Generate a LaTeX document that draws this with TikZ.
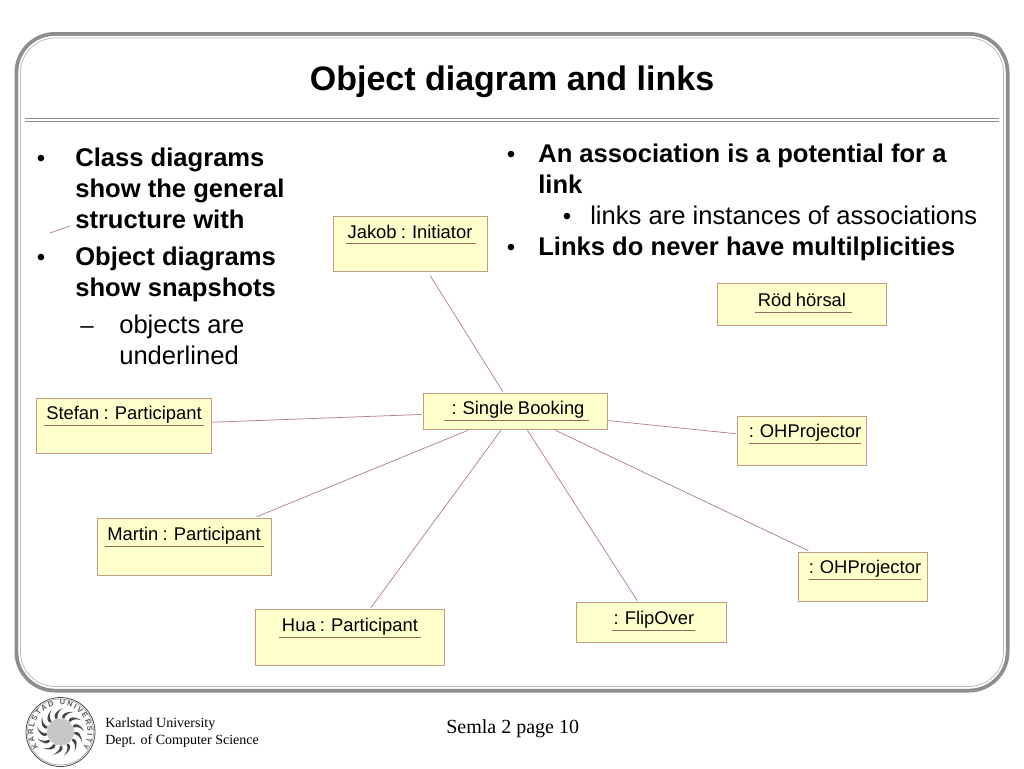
\documentclass[tikz,border=0pt]{standalone}
\usepackage{fontspec}
\setmainfont{Liberation Sans}
\newfontfamily\timesf{Liberation Serif}
\usetikzlibrary{decorations.text}
\definecolor{boxfill}{HTML}{FFFFCC}
\definecolor{boxline}{HTML}{C49A84}
\definecolor{linkline}{HTML}{B07F92}
\definecolor{uline}{HTML}{8F6A5A}
\definecolor{frameg}{HTML}{8E8E8E}
\tikzset{
  x=0.75pt,y=-0.75pt,
  objbox/.style={draw=boxline,fill=boxfill,line width=0.7pt,inner sep=0pt,outer sep=1pt},
  objlabel/.style={font=\fontsize{13.8}{15}\selectfont,anchor=base,inner sep=0pt,execute at begin node={\spaceskip=3.2pt plus 0pt\relax}},
  ulinestyle/.style={draw=uline,line width=0.35pt},
  linkl/.style={draw=linkline,line width=0.55pt},
  body/.style={font=\fontsize{19.2}{23.25}\selectfont,anchor=north west,align=left,inner sep=0pt},
  boldbody/.style={body,font=\fontsize{19.2}{23.25}\selectfont\bfseries},
  bull/.style={font=\fontsize{18}{23.25}\selectfont,anchor=base,inner sep=0pt},
}
\newcommand{\objnode}[5]{% name, x1,y1,x2,y2
  \node[objbox,minimum width=#4*0.75pt-#2*0.75pt,minimum height=#5*0.75pt-#3*0.75pt] (#1) at ({(#2+#4)/2},{(#3+#5)/2}) {};
}
\begin{document}
\begin{tikzpicture}
\useasboundingbox (0,0) rectangle (1024,768);
\fill[white] (0,0) rectangle (1024,768);
% frame
\draw[frameg,line width=3pt,rounded corners=29pt] (16.5,34) rectangle (1007.5,690.5);
\draw[white,line width=0.8pt,rounded corners=27pt] (19,36.5) rectangle (1005,688);
\draw[frameg!60,line width=0.6pt,rounded corners=26pt] (20.5,38) rectangle (1003.5,686.5);
% title rule
\draw[frameg,line width=1.2pt] (25,118.5) -- (999,118.5);
\draw[frameg,line width=1.2pt] (25,121.5) -- (999,121.5);
\node[font=\fontsize{25.5}{28}\selectfont\bfseries,anchor=base,inner sep=0pt] (title) at (512,90) {Object diagram and links};
% bullets
\node[boldbody] (c1) at (75,148) {Class diagrams\\show the general\\structure with};
\node[bull] (bc1) at (41,166) {•};
\node[boldbody] (c2) at (75,247) {Object diagrams\\show snapshots};
\node[bull] (bc2) at (41,265) {•};
\node[body] (c3) at (119,315) {objects are\\underlined};
\node[bull] (bc3) at (87,333) {–};
\node[boldbody] (r1) at (538,144) {An association is a potential for a\\link};
\node[bull] (br1) at (511,162) {•};
\node[body] (r2) at (590,206) {links are instances of associations};
\node[bull] (br2) at (567,224) {•};
\node[boldbody] (r3) at (538,237) {Links do never have multilplicities};
\node[bull] (br3) at (511,255) {•};
% stray line
\coordinate (s1) at (50,233);
\coordinate (s2) at (70,226);
\draw[linkl] (s1) -- (s2);
% boxes
\objnode{jakob}{333}{216}{487}{271}
\objnode{book}{423}{393}{607}{429}
\objnode{stefan}{36}{398}{211}{453}
\objnode{martin}{97}{518}{271}{575}
\objnode{hua}{255}{609}{444}{665}
\objnode{flip}{576}{602}{726}{642}
\objnode{oha}{737}{416}{866}{465}
\objnode{ohb}{798}{552}{927}{601}
\objnode{rod}{717}{283}{886}{325}
% links
\draw[linkl,shorten <=3pt] (jakob) -- (book);
\draw[linkl] (stefan) -- (book);
\draw[linkl] (martin) -- (book);
\draw[linkl] (hua) -- (book);
\draw[linkl] (flip) -- (book);
\draw[linkl] (oha) -- (book);
\draw[linkl] (ohb) -- (book);
% labels
\node[objlabel] (ljakob) at (410,238) {Jakob : Initiator};
\draw[ulinestyle] (346,243) -- (476,243);
\node[objlabel] (lbook) at (518,414.5) {: Single Booking};
\draw[ulinestyle] (444,420) -- (589,420);
\node[objlabel] (lstefan) at (124,419) {Stefan : Participant};
\draw[ulinestyle] (44,425) -- (204,425);
\node[objlabel] (lmartin) at (184,540) {Martin : Participant};
\draw[ulinestyle] (105,546) -- (264,546);
\node[objlabel] (lhua) at (350,631) {Hua : Participant};
\draw[ulinestyle] (279,637) -- (421,637);
\node[objlabel] (lflip) at (654,624.5) {: FlipOver};
\draw[ulinestyle] (612,630) -- (695,630);
\node[objlabel] (loha) at (805,437.5) {: OHProjector};
\draw[ulinestyle] (749,443) -- (861,443);
\node[objlabel] (lohb) at (865,573.5) {: OHProjector};
\draw[ulinestyle] (809,579) -- (921,579);
\node[objlabel] (lrod) at (802,306) {Röd hörsal};
\draw[ulinestyle] (755,312) -- (852,312);
% logo
\draw[black!70,line width=0.6pt] (60.5,732) circle (34.5);
\draw[black!45,line width=0.35pt] (60.5,732) circle (33);
\fill[black!22] (60.5,732) circle (13.5);
\foreach \a in {0,27.7,...,340}{
  \fill[black!72] ({60.5+14*cos(\a)},{732+14*sin(\a)})
    .. controls ({60.5+18*cos(\a-4)},{732+18*sin(\a-4)}) and ({60.5+21*cos(\a+6)},{732+21*sin(\a+6)}) .. ({60.5+24*cos(\a+26)},{732+24*sin(\a+26)})
    .. controls ({60.5+20.5*cos(\a+14)},{732+20.5*sin(\a+14)}) and ({60.5+17.5*cos(\a+9)},{732+17.5*sin(\a+9)}) .. ({60.5+14*cos(\a+9)},{732+14*sin(\a+9)}) -- cycle;
}
\path[decorate,decoration={text along path,text={|\fontsize{5.6}{7}\selectfont\bfseries\color{black!65}|KARLSTAD UNIVERSITY},text align={fit to path}}]
  ({60.5+27*cos(145)},{732+27*sin(145)}) arc[start angle=145,end angle=395,x radius=27,y radius=27];
% footer
\node[font=\timesf\fontsize{10.5}{12.75}\selectfont,anchor=north west,align=left,inner sep=0pt] (uni) at (105,717.5) {Karlstad University\\Dept. of Computer Science};
\node[font=\timesf\fontsize{15}{16}\selectfont,anchor=base west,inner sep=0pt] (page) at (446,733) {Semla 2 page 10};
\end{tikzpicture}
\end{document}
